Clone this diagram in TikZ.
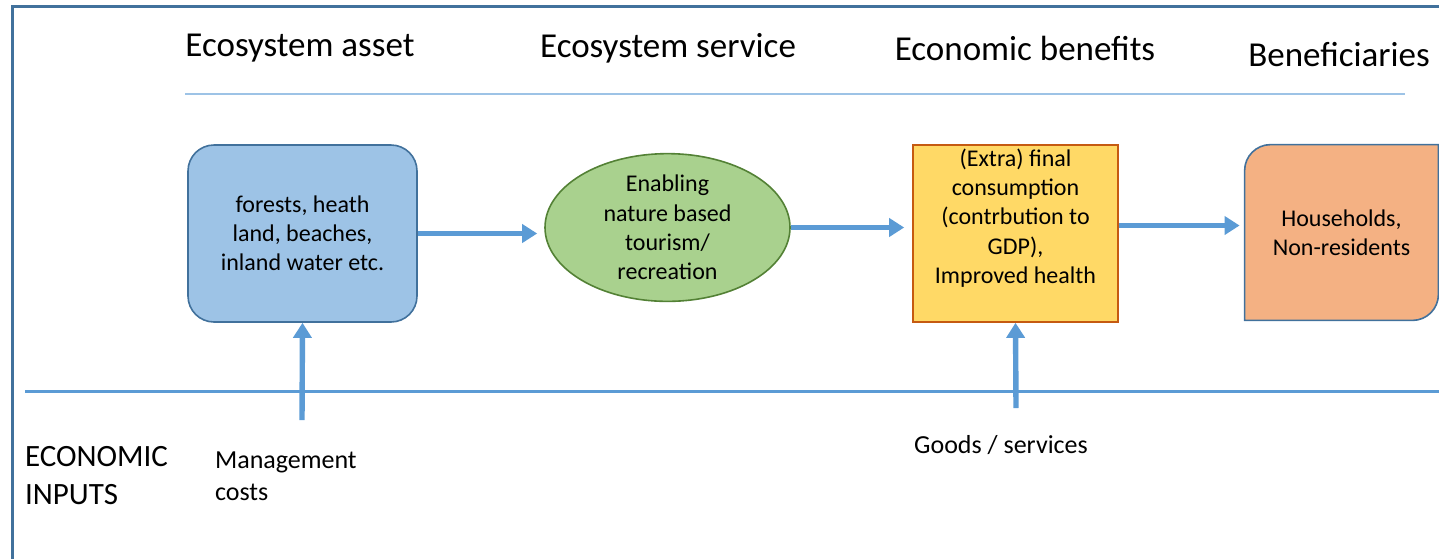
\documentclass[tikz,border=0pt]{standalone}
\usepackage{fontspec}
\setmainfont{Carlito}
\usetikzlibrary{arrows.meta,positioning,backgrounds,shapes.geometric}

\definecolor{framec}{HTML}{41719C}
\definecolor{flowc}{HTML}{5B9BD5}
\definecolor{rulec}{HTML}{9DC3E6}
\definecolor{assetc}{HTML}{9DC3E6}
\definecolor{servc}{HTML}{A9D18E}
\definecolor{servd}{HTML}{538135}
\definecolor{benc}{HTML}{FFD966}
\definecolor{bend}{HTML}{C55A11}
\definecolor{hhc}{HTML}{F4B183}

\begin{document}
\begin{tikzpicture}[x=0.5pt,y=-0.5pt,font=\fontsize{12}{14.6}\selectfont]
  %----- styles
  \tikzset{
    head/.style  ={font=\fontsize{17.5}{20}\selectfont},
    asset/.style ={draw=framec,fill=assetc,thick,rounded corners=13pt,minimum width=114.5pt,minimum height=88.5pt,align=center},
    serv/.style  ={ellipse,draw=servd,fill=servc,thick,minimum width=122.5pt,minimum height=64.5pt,inner sep=0pt,align=center},
    ben/.style   ={draw=bend,fill=benc,thick,minimum width=102.5pt,minimum height=88.5pt},
    hh/.style    ={minimum width=96.5pt,minimum height=87.5pt,align=center},
    flow/.style  ={-{Triangle[length=7.5pt,width=9pt]},line width=2.7pt,draw=flowc},
    lbl/.style   ={font=\fontsize{13}{16}\selectfont,align=left},
    divider/.style={draw=flowc,line width=1.5pt}
  }
  \useasboundingbox (0,0) rectangle (1439,559);

  %----- frame and rules
  \draw[framec,line width=1.5pt] (12,559) -- (12,6) -- (1439,6);
  \draw[rulec,line width=0.8pt] (185,94) -- (1405,94);
  \draw[divider] (25,391) -- (1439,391);

  %----- column headings
  \node[head] (h1) at (300,48) {Ecosystem asset};
  \node[head] (h2) at (668,48) {Ecosystem service};
  \node[head] (h3) at (1025,48) {Economic benefits};
  \node[head] (h4) at (1339,55) {Beneficiaries};

  %----- nodes
  \node[asset] (asset) at (302.5,233.5) {forests, heath\\land, beaches,\\inland water etc.};
  \node[serv]  (serv)  at (667.5,227.5) {Enabling\\nature based\\tourism/\\recreation};
  \node[ben]   (ben)   at (1015.5,233.5) {};
  \node[align=center] (bentxt) at (1015.5,218) {(Extra) final\\consumption\\(contrbution to\\GDP),\\Improved health};
  \node[hh]    (hh)    at (1341.5,232.5) {Households,\\Non-residents};

  % diagonal rounded box behind the beneficiaries
  \begin{scope}[on background layer,x=1pt,y=1pt]
    \filldraw[fill=hhc,draw=framec,thick] (hh.south west) -- ([yshift=-13pt]hh.north west)
      arc[start angle=180,end angle=90,radius=13pt] -- (hh.north east)
      -- ([yshift=13pt]hh.south east) arc[start angle=0,end angle=-90,radius=13pt] -- cycle;
  \end{scope}

  % economic inputs
  \node[font=\fontsize{15.5}{19}\selectfont,align=left,anchor=west] (inputs) at (18,476) {ECONOMIC\\INPUTS};
  \node[lbl,anchor=west] (mgmt) at (208,476) {Management\\costs};
  \node[lbl] (goods) at (1001,445) {Goods / services};

  %----- connections
  \draw[flow,shorten >=3.5pt] (asset.east) -- (asset.east -| serv.west);
  \draw[flow,shorten >=4pt] (serv.east) -- (serv.east -| ben.west);
  \draw[flow,shorten >=2.5pt] ([yshift=4pt]ben.east) -- ([yshift=4pt]ben.east -| hh.west);

  \coordinate (mgmtin) at (302,420);
  \coordinate (goodsin) at (1016,408);
  \draw[flow] (mgmtin) -- (asset.south);
  \draw[flow] (goodsin) -- (ben.south);
\end{tikzpicture}
\end{document}
